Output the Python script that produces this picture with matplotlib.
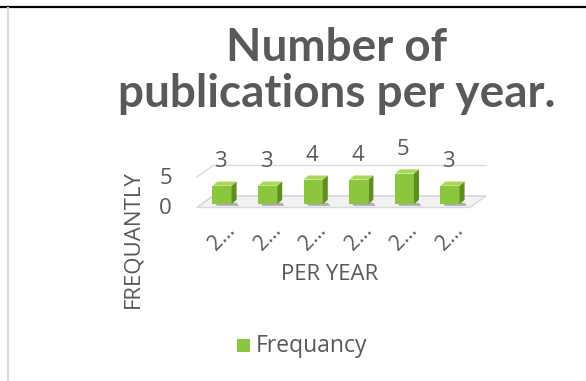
import matplotlib
matplotlib.use("Agg")
import matplotlib.pyplot as plt
from matplotlib.patches import Polygon, Rectangle
from matplotlib.lines import Line2D

# chart data
years = ["2…", "2…", "2…", "2…", "2…", "2…"]
counts = [3, 3, 4, 4, 5, 3]
series_name = "Frequancy"
title = "Number of\npublications per year."
x_label = "PER YEAR"
y_label = "FREQUANTLY"
y_ticks = [0, 5]

grey = "#595959"
front_col = "#8cc63f"
side_col = "#5e8f1c"
top_col = "#a9d857"

W, H = 586, 381
fig = plt.figure(figsize=(W / 100, H / 100), dpi=100)

# frame of the chart area
fig.add_artist(Line2D([0, 1], [1 - 7 / H, 1 - 7 / H], color="black", lw=1.6))
fig.add_artist(Line2D([8 / W, 8 / W], [0, 1 - 8 / H], color="#d9d9d9", lw=1.5))

# axes placed in pixel terms
left, right, top, bottom = 190, 490, 140, 215
ax = fig.add_axes([left / W, 1 - bottom / H, (right - left) / W, (bottom - top) / H])
px_per_unit = 6.1
ax.set_ylim((204 - bottom) / px_per_unit, (204 - top) / px_per_unit)
ax.set_xlim((left - 222) / 45.6, (right - 222) / 45.6)
ax.axis("off")

# pseudo 3d floor and gridlines
x0, x1 = -0.55, 5.44
fz, bz = -0.57, 1.31   # front / back offset in y units
dx = 0.35
floor = Polygon([(x0, fz), (x1, fz), (x1 + dx, bz), (x0 + dx, bz)],
                closed=True, facecolor="#f2f2f2", edgecolor="#d9d9d9", lw=1)
ax.add_patch(floor)
for lvl in y_ticks:
    ax.plot([x0, x0 + dx, x1 + dx], [lvl + fz, lvl + bz, lvl + bz],
            color="#d9d9d9", lw=1, clip_on=False)
    ax.text(-1.1, lvl + fz - 0.2, str(lvl), ha="right", va="center",
            fontsize=16, color=grey, family="Open Sans")

# bars
hw, sd, sh = 0.21, 0.11, 0.68
for i, h in enumerate(counts):
    ax.add_patch(Polygon([(i - hw + 0.05, 0.2), (i + hw + sd, 0.2),
                          (i + hw + sd + 0.05, -0.3), (i - hw + 0.1, -0.3)],
                         closed=True, facecolor="#7f7f7f", edgecolor="none", alpha=0.6))
    ax.bar(i, h, width=2 * hw, color=front_col, edgecolor="none", zorder=3)
    ax.add_patch(Polygon([(i + hw, 0), (i + hw, h), (i + hw + sd, h + sh), (i + hw + sd, sh)],
                         closed=True, facecolor=side_col, edgecolor="none", zorder=3))
    ax.add_patch(Polygon([(i - hw, h), (i + hw, h), (i + hw + sd, h + sh), (i - hw + sd, h + sh)],
                         closed=True, facecolor=top_col, edgecolor="none", zorder=3))
    ax.text(i - 0.03, h + 3.9, str(h), ha="center", va="center",
            fontsize=16, color=grey, family="Open Sans", clip_on=False)
    ax.text(i, -5.4, years[i], ha="center", va="center", rotation=45,
            fontsize=15, color=grey, family="Open Sans", clip_on=False)

# titles and labels
fig.text(337 / W, 1 - 71 / H, title, ha="center", va="center", fontsize=33,
         fontweight="bold", color=grey, family="Lato", linespacing=1.1)
fig.text(133 / W, 1 - 239 / H, y_label, rotation=90, ha="center", va="center",
         fontsize=16, color=grey, family="Open Sans")
fig.text(330 / W, 1 - 274 / H, x_label, ha="center", va="center",
         fontsize=16, color=grey, family="Open Sans")

# legend
fig.add_artist(Rectangle((237 / W, 1 - 352 / H), 13 / W, 13 / H,
                         transform=fig.transFigure, facecolor=front_col, edgecolor="none"))
fig.text(256 / W, 1 - 346 / H, series_name, ha="left", va="center",
         fontsize=16.5, color=grey, family="Open Sans")

fig.savefig("out.png", dpi=100)
